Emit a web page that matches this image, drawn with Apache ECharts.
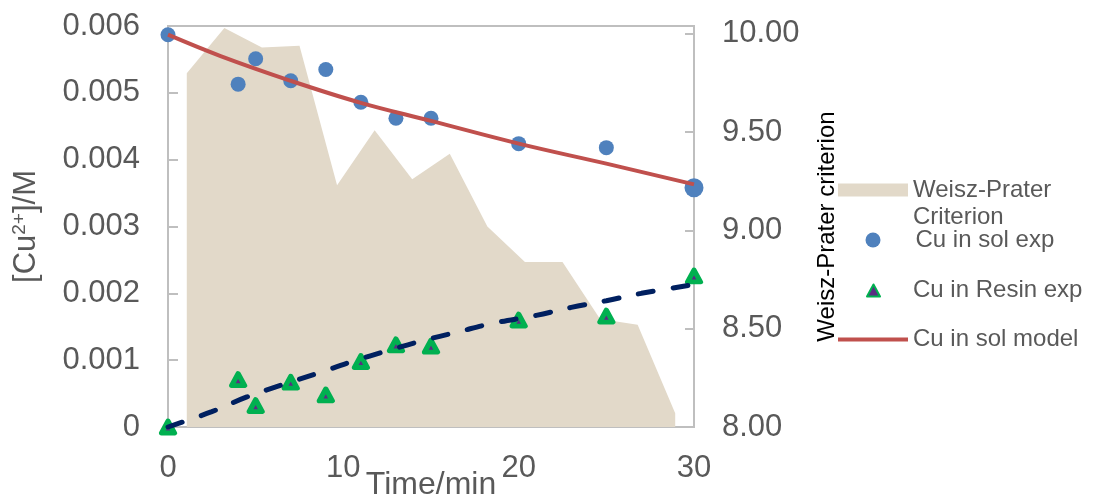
<!DOCTYPE html>
<html>
<head>
<meta charset="utf-8">
<script src="https://cdn.jsdelivr.net/npm/echarts@6/dist/echarts.min.js"></script>
<style>
html,body{margin:0;padding:0;background:#fff;}
#chart{width:1098px;height:499px;}
</style>
</head>
<body>
<div id="chart"></div>
<script>
// ---- data ----
const expTime = [0, 4, 5, 7, 9, 11, 13, 15, 20, 25, 30];
const solExp = [0.00587, 0.00513, 0.00551, 0.00518, 0.00535, 0.00486, 0.00462, 0.00462, 0.00424, 0.00418, 0.00358];
const resinExp = [0, 0.00071, 0.00032, 0.00067, 0.00048, 0.00098, 0.00123, 0.00121, 0.0016, 0.00166, 0.00226];
const solModelTime = [0, 3, 7, 11, 15, 20, 25, 30];
const solModel = [0.00587, 0.00555, 0.00518, 0.00485, 0.00458, 0.00424, 0.00394, 0.00363];
const resinModelTime = [0, 2.5, 4.5, 6.5, 8.5, 10.5, 12.5, 14.5, 16.5, 18.5, 21, 23, 25, 27, 30];
const resinModel = [0, 0.00023, 0.00045, 0.00063, 0.0008, 0.00098, 0.00114, 0.00129, 0.00142, 0.00155, 0.00167, 0.00179, 0.00189, 0.002, 0.00213];
const wpCategories = ['1','2','3','4','5','6','7','8','9','10','11','12','13','14'];
const wpValues = [9.80, 10.03, 9.93, 9.94, 9.23, 9.51, 9.26, 9.39, 9.02, 8.84, 8.84, 8.55, 8.52, 8.07];
const xTicks = { min: 0, max: 30, interval: 10 };
const yLeftTicks = { min: 0, max: 0.006, interval: 0.001 };
const yRightTicks = { min: 8, max: 10.04, interval: 0.5 };

const FONT = "'Liberation Sans', Arial, sans-serif";
const GREY = '#595959';
const FRAME = '#bfbfbf';
const BEIGE = '#e2d9c9';

const pairs = (xs, ys) => xs.map((x, i) => [x, ys[i]]);

const chart = echarts.init(document.getElementById('chart'), null, { renderer: 'canvas' });

const legendBase = {
  orient: 'vertical', padding: 0, selectedMode: false,
  textStyle: { fontFamily: FONT, fontSize: 24, color: GREY }
};

chart.setOption({
  animation: false,
  backgroundColor: '#fff',
  grid: { left: 168, right: 404, top: 26, bottom: 72, show: true, borderColor: FRAME, borderWidth: 2,
    backgroundColor: 'transparent', containLabel: false, outerBoundsMode: 'none' },
  xAxis: [
    {
      type: 'value', min: xTicks.min, max: xTicks.max, interval: xTicks.interval,
      axisLine: { show: false },
      axisTick: { show: true, inside: true, length: 9, lineStyle: { color: FRAME, width: 2 } },
      splitLine: { show: false },
      axisLabel: { fontFamily: FONT, fontSize: 31, color: GREY, margin: 26 },
      name: 'Time/min', nameLocation: 'middle', nameGap: 42, nameMoveOverlap: false,
      nameTextStyle: { fontFamily: FONT, fontSize: 32, color: GREY }
    },
    {
      type: 'category', data: wpCategories, boundaryGap: true, show: false, position: 'bottom'
    }
  ],
  yAxis: [
    {
      type: 'value', min: yLeftTicks.min, max: yLeftTicks.max, interval: yLeftTicks.interval,
      axisLine: { show: false },
      axisTick: { show: true, inside: true, length: 10, lineStyle: { color: FRAME, width: 2 } },
      splitLine: { show: false },
      axisLabel: { fontFamily: FONT, fontSize: 31, color: GREY, margin: 28,
        formatter: v => v === 0 ? '0' : v.toFixed(3) },
      name: '[Cu{sup|2+}]/M', nameLocation: 'middle', nameGap: 126, nameRotate: 90, nameMoveOverlap: false,
      nameTextStyle: { fontFamily: FONT, fontSize: 31, color: GREY, lineHeight: 32,
        rich: { sup: { fontFamily: FONT, fontSize: 19, lineHeight: 18, color: GREY, verticalAlign: 'top' } } }
    },
    {
      type: 'value', position: 'right', min: yRightTicks.min, max: yRightTicks.max, interval: yRightTicks.interval,
      axisLine: { show: false },
      axisTick: { show: true, inside: true, length: 9, lineStyle: { color: FRAME, width: 2 } },
      splitLine: { show: false },
      axisLabel: { fontFamily: FONT, fontSize: 31, color: GREY, margin: 28, showMaxLabel: false,
        formatter: v => v.toFixed(2) },
      name: 'Weisz-Prater criterion', nameLocation: 'middle', nameGap: 121, nameRotate: 90, nameMoveOverlap: false,
      nameTextStyle: { fontFamily: FONT, fontSize: 24, color: '#000' }
    }
  ],
  legend: [
    Object.assign({}, legendBase, {
      left: 838, top: 149.5, itemWidth: 70, itemHeight: 13,
      data: [{ name: 'Weisz-Prater Criterion', icon: 'rect' }],
      formatter: n => '\n' + n.replace(' C', '\nC'),
      textStyle: { fontFamily: FONT, fontSize: 24, color: GREY, lineHeight: 27 }
    }),
    Object.assign({}, legendBase, {
      left: 865.5, top: 228, itemWidth: 15, itemHeight: 15,
      data: [{ name: 'Cu in sol exp', icon: 'circle' }],
      textStyle: { fontFamily: FONT, fontSize: 24, color: GREY, padding: [0, 0, 0, 30] }
    }),
    Object.assign({}, legendBase, {
      left: 866, top: 278.5, itemWidth: 13, itemHeight: 12,
      data: [{ name: 'Cu in Resin exp', icon: 'triangle' }],
      itemStyle: { borderJoin: 'round' },
      textStyle: { fontFamily: FONT, fontSize: 24, color: GREY, padding: [0, 0, 0, 28] }
    }),
    Object.assign({}, legendBase, {
      left: 838, top: 327.5, itemWidth: 70, itemHeight: 4,
      data: [{ name: 'Cu in sol model', icon: 'rect' }]
    })
  ],
  series: [
    {
      name: 'Weisz-Prater Criterion', type: 'line', xAxisIndex: 1, yAxisIndex: 1,
      data: wpValues, symbol: 'none', smooth: false,
      itemStyle: { color: BEIGE },
      lineStyle: { width: 0, color: BEIGE },
      areaStyle: { color: BEIGE, opacity: 1, origin: 'start' },
      z: 1
    },
    {
      name: 'Cu in sol exp', type: 'scatter', xAxisIndex: 0, yAxisIndex: 0,
      data: pairs(expTime, solExp),
      symbol: 'circle',
      symbolSize: (v, p) => p.dataIndex === expTime.length - 1 ? 19 : 15,
      itemStyle: { color: '#4f81bd', opacity: 1 },
      z: 2
    },
    {
      name: 'Cu in Resin exp', type: 'scatter', xAxisIndex: 0, yAxisIndex: 0,
      data: pairs(expTime, resinExp),
      symbol: 'triangle', symbolSize: [13, 12],
      itemStyle: { color: '#5b2c83', borderColor: '#00b050', borderWidth: 5, borderJoin: 'round', opacity: 1 },
      z: 2
    },
    {
      name: 'Cu in sol model', type: 'line', xAxisIndex: 0, yAxisIndex: 0,
      data: pairs(solModelTime, solModel), smooth: 0.4, symbol: 'none',
      itemStyle: { color: '#c0504d' },
      lineStyle: { color: '#c0504d', width: 4 },
      z: 3
    },
    {
      name: 'Cu in Resin model', type: 'line', xAxisIndex: 0, yAxisIndex: 0,
      data: pairs(resinModelTime, resinModel), smooth: 0.4, symbol: 'none',
      itemStyle: { color: '#002060' },
      lineStyle: { color: '#002060', width: 5, type: [15, 20], cap: 'round' },
      z: 3
    }
  ]
});
</script>
</body>
</html>
